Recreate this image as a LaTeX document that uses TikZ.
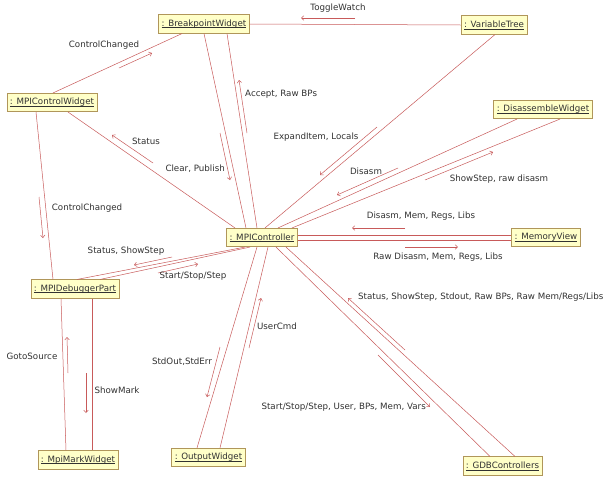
\documentclass[tikz,border=0pt]{standalone}
\usepackage{fontspec}
\setmainfont{DejaVu Sans}
\usetikzlibrary{arrows.meta}
\definecolor{lnkc}{RGB}{200,90,90}
\definecolor{boxfill}{RGB}{255,255,200}
\definecolor{boxdraw}{RGB}{176,150,90}
\definecolor{txt}{RGB}{50,50,50}
\newcommand\objul[1]{\setbox0\hbox{#1}\rlap{\rule[-1.4pt]{\wd0}{0.5pt}}\box0}
\tikzset{
 obj/.style={draw=boxdraw, fill=boxfill, line width=0.6pt, inner xsep=3pt, inner ysep=0pt, minimum height=18.5pt, text=txt, font=\fontsize{8.7}{10}\selectfont},
 link/.style={draw=lnkc, line width=0.5pt},
 msg/.style={draw=lnkc, line width=0.5pt, -{Straight Barb[length=2.5pt,width=4.5pt]}},
 lbl/.style={text=txt, font=\fontsize{8.7}{10}\selectfont, inner sep=0pt}
}
\begin{document}
\begin{tikzpicture}[x=1pt,y=-1pt]
\useasboundingbox (0,0) rectangle (611,480);
\fill[white] (0,0) rectangle (611,480);

% objects
\node[obj] (bw)  at (204,24)    {\objul{: BreakpointWidget}};
\node[obj] (vt)  at (494,25)    {\objul{: VariableTree}};
\node[obj] (mcw) at (52,102.5)  {\objul{: MPIControlWidget}};
\node[obj] (dw)  at (543,109.5) {\objul{: DisassembleWidget}};
\node[obj] (mc)  at (262,237.5) {\objul{: MPIController}};
\node[obj] (mv)  at (546,237.5) {\objul{: MemoryView}};
\node[obj] (mdp) at (75,289)    {\objul{: MPIDebuggerPart}};
\node[obj] (mmw) at (78,460)    {\objul{: MpiMarkWidget}};
\node[obj] (ow)  at (208.5,457.5) {\objul{: OutputWidget}};
\node[obj] (gdb) at (502.5,466) {\objul{: GDBControllers}};

% links
\draw[link] (bw.east) -- (vt.west);
\draw[link] ([xshift=-22pt]bw.south) -- ([xshift=1pt]mcw.north);
\draw[link] (bw.south) -- ([xshift=-16pt]mc.north);
\draw[link] ([xshift=23pt]bw.south) -- ([xshift=-5pt]mc.north);
\draw[link] ([xshift=16pt]mcw.south) -- ([xshift=-27pt]mc.north);
\draw[link] ([xshift=-16pt]mcw.south) -- ([xshift=-22pt]mdp.north);
\draw[link] ([xshift=2pt]mdp.north) -- ([xshift=-17pt]mc.south);
\draw[link] ([xshift=25pt]mdp.north) -- ([xshift=-12pt]mc.south);
\draw[link] ([xshift=-14pt]mdp.south) -- ([xshift=-12pt]mmw.north);
\draw[link] ([xshift=17.3pt]mdp.south) -- ([xshift=14.3pt]mmw.north);
\draw[link] ([xshift=-5pt]mc.south) -- ([xshift=-11.5pt]ow.north);
\draw[link] ([xshift=6pt]mc.south) -- ([xshift=11.5pt]ow.north);
\draw[link] ([xshift=3pt]mc.north) -- ([xshift=1pt]vt.south);
\draw[link] ([xshift=16pt]mc.north) -- ([xshift=-26pt]dw.south);
\draw[link] ([xshift=30pt]mc.north) -- ([xshift=17pt]dw.south);
\draw[link] ([yshift=2.5pt]mc.east) -- ([yshift=2.5pt]mv.west);
\draw[link] ([yshift=-2.5pt]mc.east) -- ([yshift=-2.5pt]mv.west);
\draw[link] ([xshift=14pt]mc.south) -- ([xshift=-12.5pt]gdb.north);
\draw[link] ([xshift=24pt]mc.south) -- ([xshift=12.5pt]gdb.north);

% messages
\draw[msg] (355,18) -- (301,18);
\node[lbl] (l1) at (338,8) {ToggleWatch};
\draw[msg] (119,68) -- (152,53);
\node[lbl] (l2) at (104,45) {ControlChanged};
\draw[msg] (247,133) -- (239,80);
\node[lbl,anchor=west] (l3) at (245,94) {Accept, Raw BPs};
\draw[msg] (220,133) -- (230,180);
\node[lbl,anchor=east] (l4) at (225,169) {Clear, Publish};
\draw[msg] (153,163) -- (112,135);
\node[lbl] (l5) at (146,141) {Status};
\draw[msg] (39,197) -- (43,238);
\node[lbl] (l6) at (87,208) {ControlChanged};
\draw[msg] (172,257) -- (134,265);
\node[lbl] (l7) at (126,251) {Status, ShowStep};
\draw[msg] (158,273) -- (198,264);
\node[lbl] (l8) at (193,276) {Start/Stop/Step};
\draw[msg] (68,373) -- (67,337);
\node[lbl] (l9) at (32,356) {GotoSource};
\draw[msg] (86,373) -- (86,413);
\node[lbl] (l10) at (117,390) {ShowMark};
\draw[msg] (249,348) -- (261,298);
\node[lbl] (l11) at (277,326) {UserCmd};
\draw[msg] (220,347) -- (207,397);
\node[lbl] (l12) at (182,362) {StdOut,StdErr};
\draw[msg] (377,127) -- (320,175);
\node[lbl] (l13) at (316,137) {ExpandItem, Locals};
\draw[msg] (398,168) -- (337,195);
\node[lbl] (l14) at (366,171) {Disasm};
\draw[msg] (425,180) -- (493,152);
\node[lbl] (l15) at (499,179) {ShowStep, raw disasm};
\draw[msg] (405,228) -- (352,228);
\node[lbl] (l16) at (421,216) {Disasm, Mem, Regs, Libs};
\draw[msg] (405,247) -- (458,247);
\node[lbl] (l17) at (438,257) {Raw Disasm, Mem, Regs, Libs};
\draw[msg] (405,350) -- (348,298);
\node[lbl,anchor=west] (l18) at (358,297) {Status, ShowStep, Stdout, Raw BPs, Raw Mem/Regs/Libs};
\draw[msg] (378,355) -- (430,407);
\node[lbl,anchor=east] (l19) at (426,407) {Start/Stop/Step, User, BPs, Mem, Vars};
\end{tikzpicture}
\end{document}
